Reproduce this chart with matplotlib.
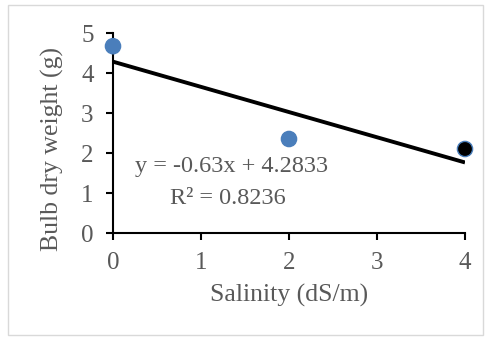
import matplotlib.pyplot as plt
from matplotlib.patches import Rectangle

salinity = [0, 2, 4]
weight = [4.67, 2.35, 2.1]
point_fill = ['#4a7ebb', '#4a7ebb', 'black']
slope = -0.63
intercept = 4.2833
eq_text = "y = -0.63x + 4.2833"
r2_text = "R² = 0.8236"

plt.rcParams['font.family'] = ['Liberation Serif']
grey = '#595959'

fig = plt.figure(figsize=(4.91, 3.47), dpi=100)
fig.patches.append(Rectangle((8/491, 1-335/347), 475/491, 330/347, transform=fig.transFigure,
                             fill=False, edgecolor='#d9d9d9', linewidth=1))
ax = fig.add_axes([113/491, 1-233/347, 352/491, 200/347])

# trendline
xs = [0, 4]
ax.plot(xs, [slope*x + intercept for x in xs], color='black', lw=2.8, zorder=2, solid_capstyle='butt')
ax.scatter(salinity, weight, s=120, c=point_fill, edgecolors='#4a7ebb', linewidths=1, zorder=3, clip_on=False)

ax.set_xlim(0, 4)
ax.set_ylim(0, 5)
ax.set_xticks([0, 1, 2, 3, 4])
ax.set_yticks([0, 1, 2, 3, 4, 5])
for s in ['top', 'right']:
    ax.spines[s].set_visible(False)
for s in ['left', 'bottom']:
    ax.spines[s].set_linewidth(1.5)
ax.tick_params(direction='out', length=5, width=1.5, colors='black', labelcolor=grey, labelsize=18)
ax.tick_params(axis='x', pad=8.5)
ax.tick_params(axis='y', pad=9)

ax.set_xlabel('Salinity (dS/m)', fontsize=18.5, color=grey, labelpad=7)
ax.set_ylabel('Bulb dry weight (g)', fontsize=18.5, color=grey)
ax.yaxis.set_label_coords(-0.14, 0.42)

ax.text(0.25, 1.67, eq_text, fontsize=17.5, color=grey, ha='left', va='center')
ax.text(0.65, 0.87, r2_text, fontsize=17.5, color=grey, ha='left', va='center')

fig.savefig('out.png', dpi=100)
